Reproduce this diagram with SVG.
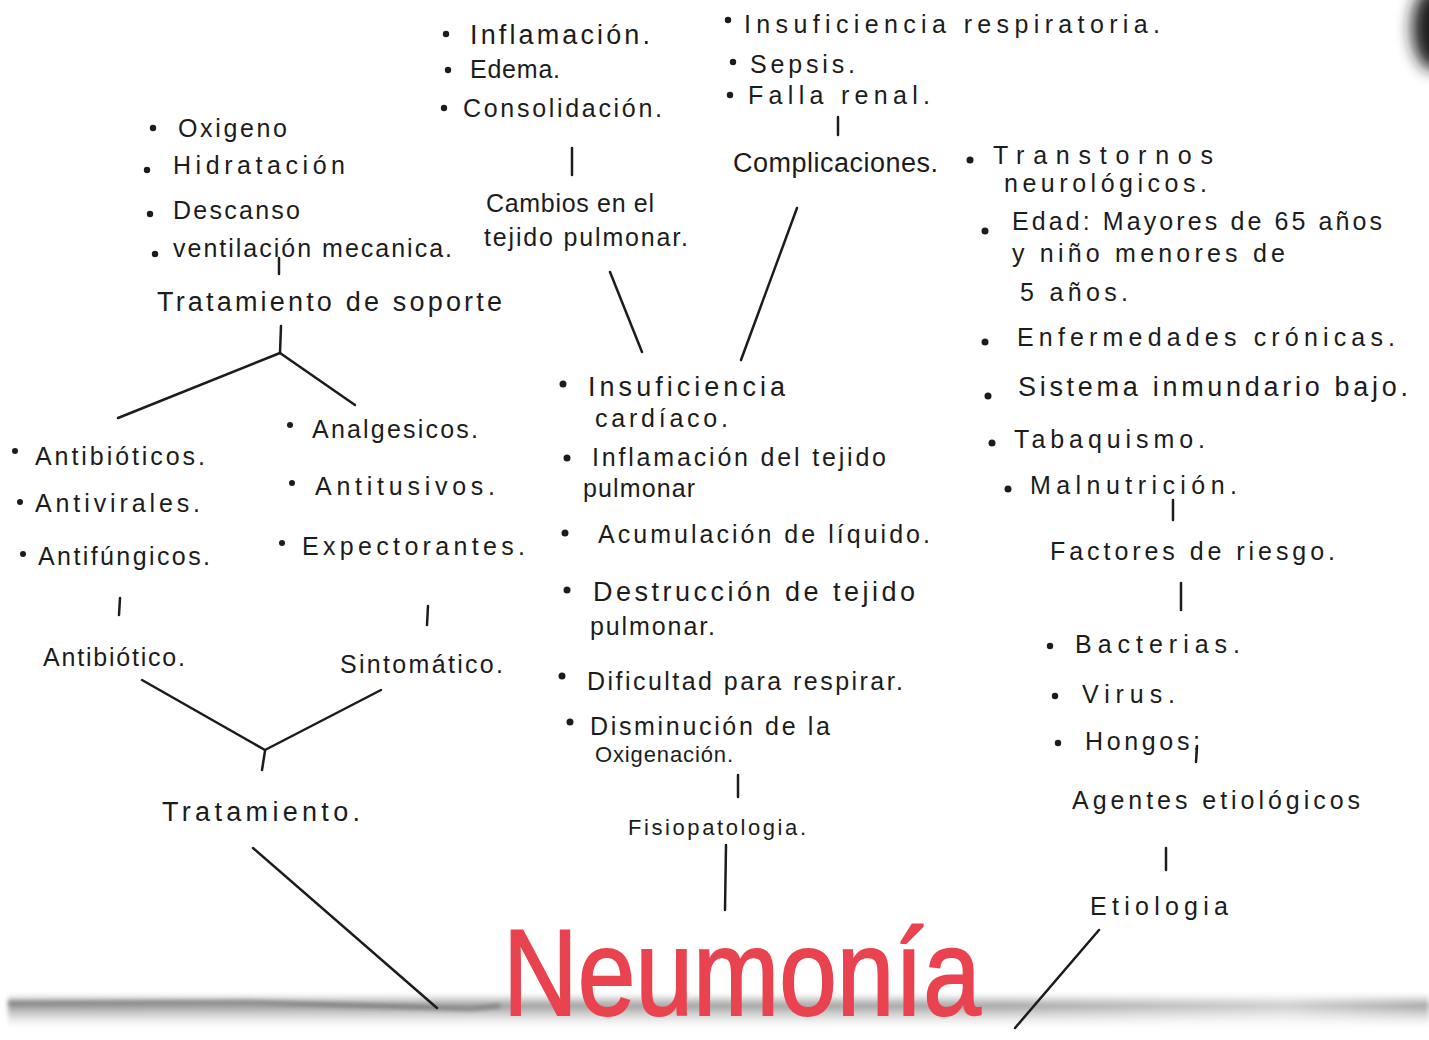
<svg xmlns="http://www.w3.org/2000/svg" width="1429" height="1040" viewBox="0 0 1429 1040">
<defs>
<style>
.t{font-family:"Liberation Sans","Open Sans",sans-serif;font-size:25px;fill:#1c1c1c;}
.h{font-size:27px;}
.s{font-size:22px;}
.b{fill:#1c1c1c;}
.c{stroke:#1c1c1c;stroke-width:2.5;fill:none;stroke-linecap:round;}
.title{font-family:"Liberation Sans","Open Sans",sans-serif;font-size:122px;fill:#e8434f;stroke:#e8434f;stroke-width:2;}
</style>
<linearGradient id="band" x1="0" y1="0" x2="0" y2="1">
<stop offset="0" stop-color="#888" stop-opacity="0"/>
<stop offset="0.35" stop-color="#8a8a8a" stop-opacity="0.85"/>
<stop offset="0.6" stop-color="#b0b0b0" stop-opacity="0.6"/>
<stop offset="1" stop-color="#ddd" stop-opacity="0"/>
</linearGradient>
<linearGradient id="bandH" x1="0" y1="0" x2="1" y2="0">
<stop offset="0" stop-color="#fff" stop-opacity="0"/>
<stop offset="0.7" stop-color="#fff" stop-opacity="0.1"/>
<stop offset="0.9" stop-color="#fff" stop-opacity="0.5"/>
<stop offset="1" stop-color="#fff" stop-opacity="0.1"/>
</linearGradient>
<filter id="blur" x="-50%" y="-50%" width="200%" height="200%"><feGaussianBlur stdDeviation="8"/></filter>
<filter id="blur2" x="-10%" y="-100%" width="120%" height="300%"><feGaussianBlur stdDeviation="2"/></filter>
</defs>
<rect width="1429" height="1040" fill="#ffffff"/>
<g id="paper-edge">
<rect x="8" y="994" width="1421" height="34" fill="url(#band)" filter="url(#blur2)"/>
<rect x="8" y="994" width="1421" height="34" fill="url(#bandH)"/>
<path d="M8 1003 L250 1002 L380 1006 L470 1009 L500 1006" stroke="#555" stroke-width="3" fill="none" opacity="0.7" filter="url(#blur2)"/>
<ellipse cx="1434" cy="28" rx="22" ry="42" fill="#1a1a1a" filter="url(#blur)"/>
</g>

<g id="connectors">
<line class="c" x1="572" y1="148" x2="572" y2="175"/>
<line class="c" x1="610" y1="272" x2="642" y2="352"/>
<line class="c" x1="838" y1="117" x2="838" y2="135"/>
<line class="c" x1="797" y1="208" x2="741" y2="360"/>
<line class="c" x1="1173" y1="500" x2="1173" y2="520"/>
<line class="c" x1="1181" y1="583" x2="1181" y2="610"/>
<line class="c" x1="1197" y1="746" x2="1196" y2="762"/>
<line class="c" x1="1166" y1="848" x2="1166" y2="870"/>
<line class="c" x1="1099" y1="930" x2="1015" y2="1028"/>
<line class="c" x1="279" y1="258" x2="279" y2="274"/>
<line class="c" x1="281" y1="326" x2="280" y2="353"/>
<line class="c" x1="280" y1="353" x2="118" y2="418"/>
<line class="c" x1="280" y1="353" x2="355" y2="405"/>
<line class="c" x1="120" y1="598" x2="119" y2="615"/>
<line class="c" x1="428" y1="606" x2="427" y2="625"/>
<line class="c" x1="142" y1="680" x2="265" y2="750"/>
<line class="c" x1="381" y1="690" x2="265" y2="750"/>
<line class="c" x1="265" y1="751" x2="262" y2="770"/>
<line class="c" x1="253" y1="848" x2="437" y2="1008"/>
<line class="c" x1="738" y1="775" x2="738" y2="797"/>
<line class="c" x1="726" y1="845" x2="725" y2="910"/>
</g>

<g id="cambios-list">
<circle class="b" cx="446" cy="34" r="3.2"/><text class="t h" x="470" y="44" textLength="180">Inflamación.</text>
<circle class="b" cx="448" cy="70" r="3.2"/><text class="t" x="470" y="78" textLength="90">Edema.</text>
<circle class="b" cx="444" cy="108" r="3.2"/><text class="t" x="463" y="117" textLength="199">Consolidación.</text>
</g>
<g id="cambios">
<text class="t" x="486" y="212" textLength="168">Cambios en el</text>
<text class="t" x="484" y="246" textLength="204">tejido pulmonar.</text>
</g>

<g id="complicaciones-list">
<circle class="b" cx="728" cy="20" r="3.2"/><text class="t" x="744" y="33" textLength="416">Insuficiencia   respiratoria.</text>
<circle class="b" cx="733" cy="62" r="3.2"/><text class="t" x="750" y="73" textLength="105">Sepsis.</text>
<circle class="b" cx="730" cy="95" r="3.2"/><text class="t" x="748" y="104" textLength="182">Falla   renal.</text>
</g>
<g id="complicaciones">
<text class="t h" x="733" y="172" textLength="205" font-size="26">Complicaciones.</text>
</g>

<g id="riesgo-list">
<circle class="b" cx="970" cy="160" r="3.5"/><text class="t" x="993" y="164" textLength="220">Transtornos</text>
<text class="t" x="1004" y="192" textLength="203">neurológicos.</text>
<circle class="b" cx="985" cy="231" r="3.5"/><text class="t" x="1012" y="230" textLength="370">Edad: Mayores de  65 años</text>
<text class="t" x="1012" y="262" textLength="273">y niño menores de</text>
<text class="t" x="1020" y="301" textLength="108">5 años.</text>
<circle class="b" cx="985" cy="342" r="3.5"/><text class="t" x="1017" y="346" textLength="378">Enfermedades   crónicas.</text>
<circle class="b" cx="988" cy="396" r="3.5"/><text class="t h" x="1018" y="396" textLength="390">Sistema inmundario bajo.</text>
<circle class="b" cx="992" cy="443" r="3.5"/><text class="t" x="1014" y="448" textLength="191">Tabaquismo.</text>
<circle class="b" cx="1008" cy="489" r="3.5"/><text class="t" x="1030" y="494" textLength="207">Malnutrición.</text>
</g>
<g id="factores-riesgo">
<text class="t" x="1050" y="560" textLength="285">Factores de riesgo.</text>
</g>

<g id="agentes-list">
<circle class="b" cx="1050" cy="646" r="3.2"/><text class="t" x="1075" y="653" textLength="165">Bacterias.</text>
<circle class="b" cx="1055" cy="696" r="3.2"/><text class="t" x="1082" y="703" textLength="93">Virus.</text>
<circle class="b" cx="1058" cy="743" r="3.2"/><text class="t" x="1085" y="750" textLength="115">Hongos;</text>
</g>
<g id="agentes">
<text class="t" x="1072" y="809" textLength="288">Agentes etiológicos</text>
</g>
<g id="etiologia">
<text class="t" x="1090" y="915" textLength="138">Etiologia</text>
</g>

<g id="soporte-list">
<circle class="b" cx="153" cy="128" r="3.2"/><text class="t" x="178" y="137" textLength="109">Oxigeno</text>
<circle class="b" cx="147" cy="170" r="3.2"/><text class="t" x="173" y="174" textLength="172">Hidratación</text>
<circle class="b" cx="150" cy="214" r="3.2"/><text class="t" x="173" y="219" textLength="127">Descanso</text>
<circle class="b" cx="155" cy="254" r="3.2"/><text class="t" x="173" y="257" textLength="279">ventilación mecanica.</text>
</g>
<g id="soporte">
<text class="t h" x="157" y="311" textLength="345">Tratamiento de soporte</text>
</g>

<g id="antibiotico-list">
<circle class="b" cx="15" cy="451" r="3"/><text class="t" x="35" y="465" textLength="170">Antibióticos.</text>
<circle class="b" cx="20" cy="502" r="3"/><text class="t" x="35" y="512" textLength="165">Antivirales.</text>
<circle class="b" cx="23" cy="554" r="3"/><text class="t" x="38" y="565" textLength="172">Antifúngicos.</text>
</g>
<g id="antibiotico">
<text class="t" x="43" y="666" textLength="142">Antibiótico.</text>
</g>
<g id="sintomatico-list">
<circle class="b" cx="290" cy="425" r="3"/><text class="t" x="312" y="438" textLength="166">Analgesicos.</text>
<circle class="b" cx="292" cy="483" r="3"/><text class="t" x="315" y="495" textLength="180">Antitusivos.</text>
<circle class="b" cx="282" cy="543" r="3"/><text class="t" x="302" y="555" textLength="223">Expectorantes.</text>
</g>
<g id="sintomatico">
<text class="t" x="340" y="673" textLength="163">Sintomático.</text>
</g>
<g id="tratamiento">
<text class="t h" x="162" y="821" textLength="198">Tratamiento.</text>
</g>

<g id="fisio-list">
<circle class="b" cx="563" cy="384" r="3.5"/><text class="t h" x="588" y="396" textLength="197">Insuficiencia</text>
<text class="t" x="595" y="427" textLength="133">cardíaco.</text>
<circle class="b" cx="567" cy="458" r="3.5"/><text class="t" x="592" y="466" textLength="294">Inflamación del tejido</text>
<text class="t" x="583" y="497" textLength="112">pulmonar</text>
<circle class="b" cx="565" cy="533" r="3.5"/><text class="t" x="598" y="543" textLength="332">Acumulación de líquido.</text>
<circle class="b" cx="567" cy="590" r="3.5"/><text class="t h" x="593" y="601" textLength="322">Destrucción de tejido</text>
<text class="t" x="590" y="635" textLength="125">pulmonar.</text>
<circle class="b" cx="562" cy="676" r="3.5"/><text class="t" x="587" y="690" textLength="316">Dificultad para respirar.</text>
<circle class="b" cx="570" cy="722" r="3.5"/><text class="t" x="590" y="735" textLength="240">Disminución de la</text>
<text class="t s" x="595" y="762" textLength="138">Oxigenación.</text>
</g>
<g id="fisiopatologia">
<text class="t s" x="628" y="835" textLength="178">Fisiopatologia.</text>
</g>

<g id="neumonia">
<text class="title" transform="translate(503 1015) scale(0.849 1)">Neumonía</text>
</g>
</svg>
